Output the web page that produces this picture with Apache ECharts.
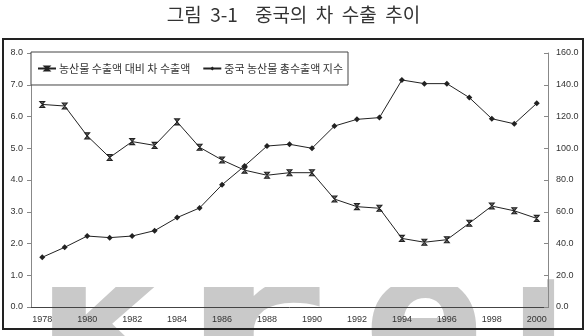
<!DOCTYPE html>
<html>
<head>
<meta charset="utf-8">
<script src="https://cdn.jsdelivr.net/npm/echarts@6/dist/echarts.min.js"></script>
<style>
	html, body { margin: 0; padding: 0; background: #fff; }
	#main { width: 587px; height: 336px; }
</style>
</head>
<body>
<div id="main"></div>
<script>
	// 연도
	let years = ['1978', '1979', '1980', '1981', '1982', '1983', '1984', '1985', '1986', '1987', '1988', '1989',
		'1990', '1991', '1992', '1993', '1994', '1995', '1996', '1997', '1998', '1999', '2000'];
	// 농산물 수출액 대비 차 수출액 (%), 왼쪽 축
	let ratio = [6.38, 6.33, 5.39, 4.71, 5.21, 5.09, 5.83, 5.03, 4.63, 4.31, 4.15, 4.23,
		4.23, 3.40, 3.16, 3.11, 2.16, 2.04, 2.12, 2.64, 3.18, 3.03, 2.79];
	// 중국 농산물 총수출액 지수, 오른쪽 축
	let index = [31.3, 37.6, 44.7, 43.7, 44.7, 48.1, 56.3, 62.4, 77.0, 88.8, 101.4, 102.5,
		100.0, 114.0, 118.2, 119.3, 143.0, 140.7, 140.7, 131.9, 118.6, 115.4, 128.3];
	let names = ['농산물 수출액 대비 차 수출액', '중국 농산물 총수출액 지수'];

	let font = 'Liberation Sans';
	let krFont = '"Noto Sans CJK KR"';
	let lineColor = '#222';
	// x 마커 (모래시계 모양)
	let xMark = 'path://M0,0 L8,0 L0,9 L8,9 Z';

	// 워터마크 글자
	function mark(ch, x, sx) {
		return {
			type: 'text',
			z: -10,
			x: x,
			y: 242,
			scaleX: sx || 1,
			style: {
				text: ch,
				fill: '#c9c9c9',
				font: 'bold 178px "DejaVu Sans"',
				verticalAlign: 'top'
			}
		};
	}

	let myChart = echarts.init(document.getElementById('main'));
	let option = {
		animation: false,
		backgroundColor: '#fff',
		title: {
			text: '그림  3-1    중국의  차  수출  추이',
			left: 'center',
			top: 0,
			textStyle: {
				fontFamily: krFont,
				fontSize: 19,
				fontWeight: 'normal',
				color: '#333'
			}
		},
		graphic: [
			mark('k', 36, 1.08),
			mark('r', 180, 1.6),
			mark('e', 364),
			mark('ı', 508),
			{
				// 워터마크 윗부분 가리기
				type: 'rect',
				z: -5,
				shape: { x: 33, y: 150, width: 514, height: 137 },
				style: { fill: '#fff' }
			},
			{
				type: 'rect',
				z: 100,
				shape: { x: 3, y: 39, width: 580, height: 290 },
				style: { fill: null, stroke: '#222', lineWidth: 2 }
			}
		],
		legend: {
			left: 31,
			top: 52,
			padding: [11, 5, 11, 6],
			itemGap: 12,
			itemWidth: 18,
			itemHeight: 5,
			backgroundColor: '#fff',
			borderColor: '#444',
			borderWidth: 1,
			textStyle: {
				fontFamily: krFont,
				fontSize: 11,
				color: '#333',
				padding: [0, 0, 0, -2]
			},
			data: names
		},
		grid: {
			left: 31,
			right: 39,
			top: 53,
			bottom: 29
		},
		xAxis: {
			type: 'category',
			data: years,
			boundaryGap: true,
			axisLine: { lineStyle: { color: '#444', width: 1 } },
			axisTick: { inside: true, length: 4, interval: 0, lineStyle: { color: '#444' } },
			axisLabel: {
				interval: 1,
				margin: 8,
				fontFamily: font,
				fontSize: 9,
				color: '#333'
			}
		},
		yAxis: [{
			type: 'value',
			min: 0,
			max: 8,
			interval: 1,
			splitLine: { show: false },
			axisLine: { show: true, lineStyle: { color: '#888' } },
			axisTick: { show: true, length: 4, lineStyle: { color: '#888' } },
			axisLabel: {
				margin: 8,
				fontFamily: font,
				fontSize: 9,
				color: '#333',
				formatter: v => v.toFixed(1)
			}
		}, {
			type: 'value',
			min: 0,
			max: 160,
			interval: 20,
			position: 'right',
			splitLine: { show: false },
			axisLine: { show: true, lineStyle: { color: '#888' } },
			axisTick: { show: true, inside: true, length: 4, lineStyle: { color: '#888' } },
			axisLabel: {
				margin: 8,
				fontFamily: font,
				fontSize: 9,
				color: '#333',
				formatter: v => v.toFixed(1)
			}
		}],
		series: [{
			name: names[0],
			type: 'line',
			yAxisIndex: 0,
			data: ratio,
			symbol: xMark,
			symbolSize: [5, 6],
			lineStyle: { color: lineColor, width: 1 },
			itemStyle: { color: '#666', borderColor: lineColor, borderWidth: 1 }
		}, {
			name: names[1],
			type: 'line',
			yAxisIndex: 1,
			data: index,
			symbol: 'diamond',
			symbolSize: 6,
			lineStyle: { color: lineColor, width: 1 },
			itemStyle: { color: lineColor, borderWidth: 0 }
		}]
	};
	myChart.setOption(option);
</script>
</body>
</html>
